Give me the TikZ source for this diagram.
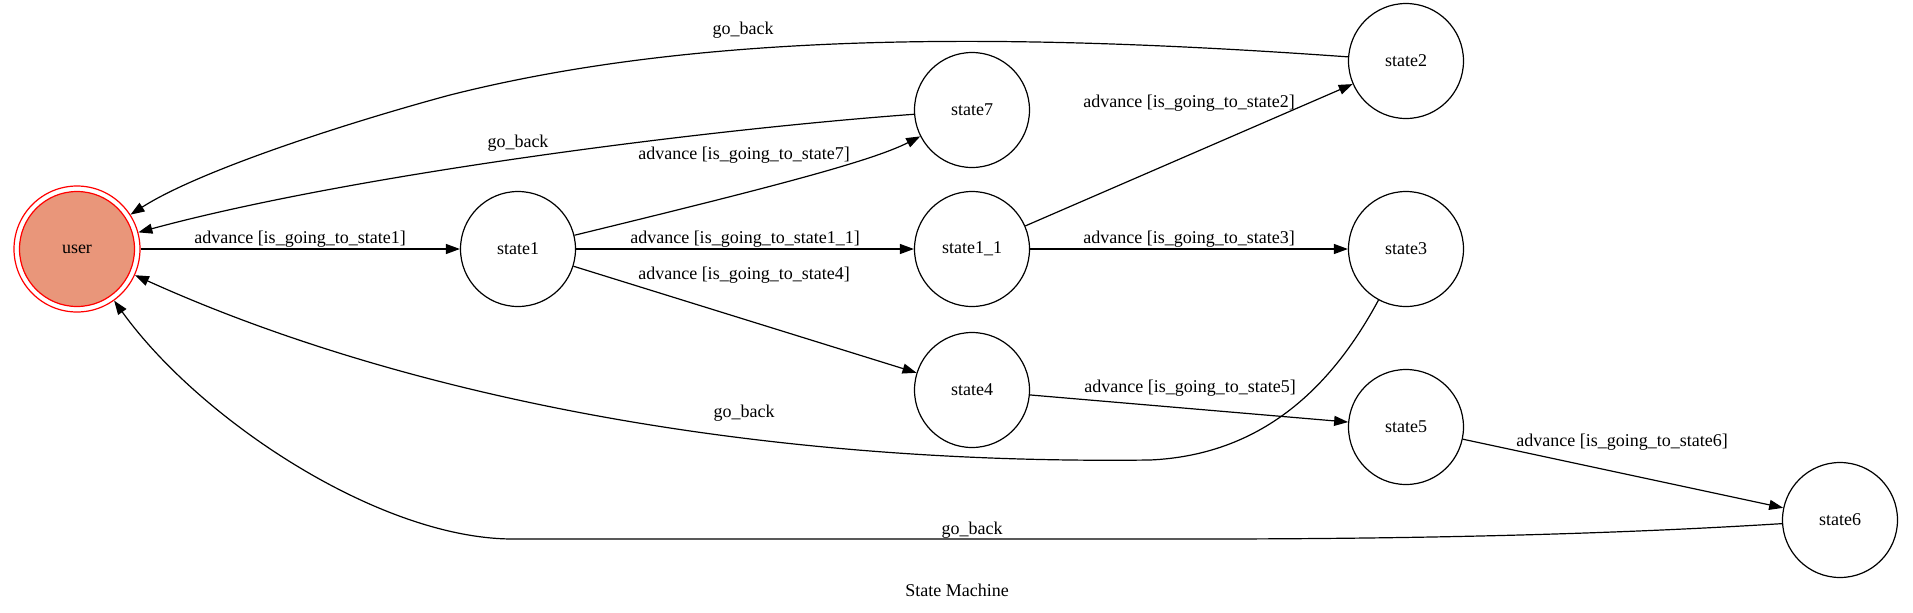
\documentclass[tikz,border=0pt]{standalone}
\usepackage{fontspec}
\setmainfont{Liberation Serif}
\usetikzlibrary{arrows.meta}
\definecolor{salmonfill}{RGB}{233,150,122}
\begin{document}
\begin{tikzpicture}[x=0.5pt,y=-0.5pt,
  st/.style={circle,draw=black,line width=0.6pt,minimum size=57.5pt,inner sep=0pt,font=\fontsize{9}{10}\selectfont},
  lbl/.style={font=\fontsize{9}{10}\selectfont,inner sep=0pt},
  edge/.style={draw=black,line width=0.6pt,-{Triangle[length=7pt,width=5pt]}}]
\useasboundingbox (0,0) rectangle (1913,612);
% nodes
\node[st,fill=salmonfill,draw=red] (user) at (77,249) {user};
\node[circle,draw=red,line width=0.6pt,minimum size=63pt,inner sep=0pt] (userouter) at (77,249) {};
\node[st] (state1) at (518,249) {state1};
\node[st] (state7) at (972,110) {state7};
\node[st] (state11) at (972,249) {state1\_1};
\node[st] (state4) at (972,390) {state4};
\node[st] (state2) at (1406,61) {state2};
\node[st] (state3) at (1406,249) {state3};
\node[st] (state5) at (1406,427) {state5};
\node[st] (state6) at (1840,520) {state6};
% edges
\draw[edge] (userouter) -- (state1);
\draw[edge] (state1) .. controls (760,190) and (870,162) .. (state7);
\draw[edge] (state1) -- (state11);
\draw[edge] (state1) -- (state4);
\draw[edge] (state7) .. controls (700,130) and (350,175) .. (userouter);
\draw[edge] (state2) .. controls (1000,32) and (700,32) .. (450,95)
  .. controls (350,122) and (200,170) .. (userouter);
\draw[edge] (state11) -- (state2);
\draw[edge] (state11) -- (state3);
\draw[edge] (state3) .. controls (1330,390) and (1260,455) .. (1150,460)
  .. controls (750,465) and (400,395) .. (userouter);
\draw[edge] (state4) -- (state5);
\draw[edge] (state5) -- (state6);
\draw[edge] (state6) .. controls (1600,535) and (1400,539) .. (1200,539)
  -- (513,539) .. controls (380,539) and (200,420) .. (userouter);
% labels
\node[lbl] (l1) at (300,239) {advance [is\_going\_to\_state1]};
\node[lbl] (l7) at (744,155) {advance [is\_going\_to\_state7]};
\node[lbl] (l11) at (745,239) {advance [is\_going\_to\_state1\_1]};
\node[lbl] (l4) at (744,275) {advance [is\_going\_to\_state4]};
\node[lbl] (g7) at (518,143) {go\_back};
\node[lbl] (g2) at (743,30) {go\_back};
\node[lbl] (l2) at (1189,103) {advance [is\_going\_to\_state2]};
\node[lbl] (l3) at (1189,239) {advance [is\_going\_to\_state3]};
\node[lbl] (g3) at (744,413) {go\_back};
\node[lbl] (l5) at (1190,388) {advance [is\_going\_to\_state5]};
\node[lbl] (l6) at (1622,442) {advance [is\_going\_to\_state6]};
\node[lbl] (g6) at (972,530) {go\_back};
\node[lbl] (title) at (957,590) {State Machine};
\end{tikzpicture}
\end{document}
